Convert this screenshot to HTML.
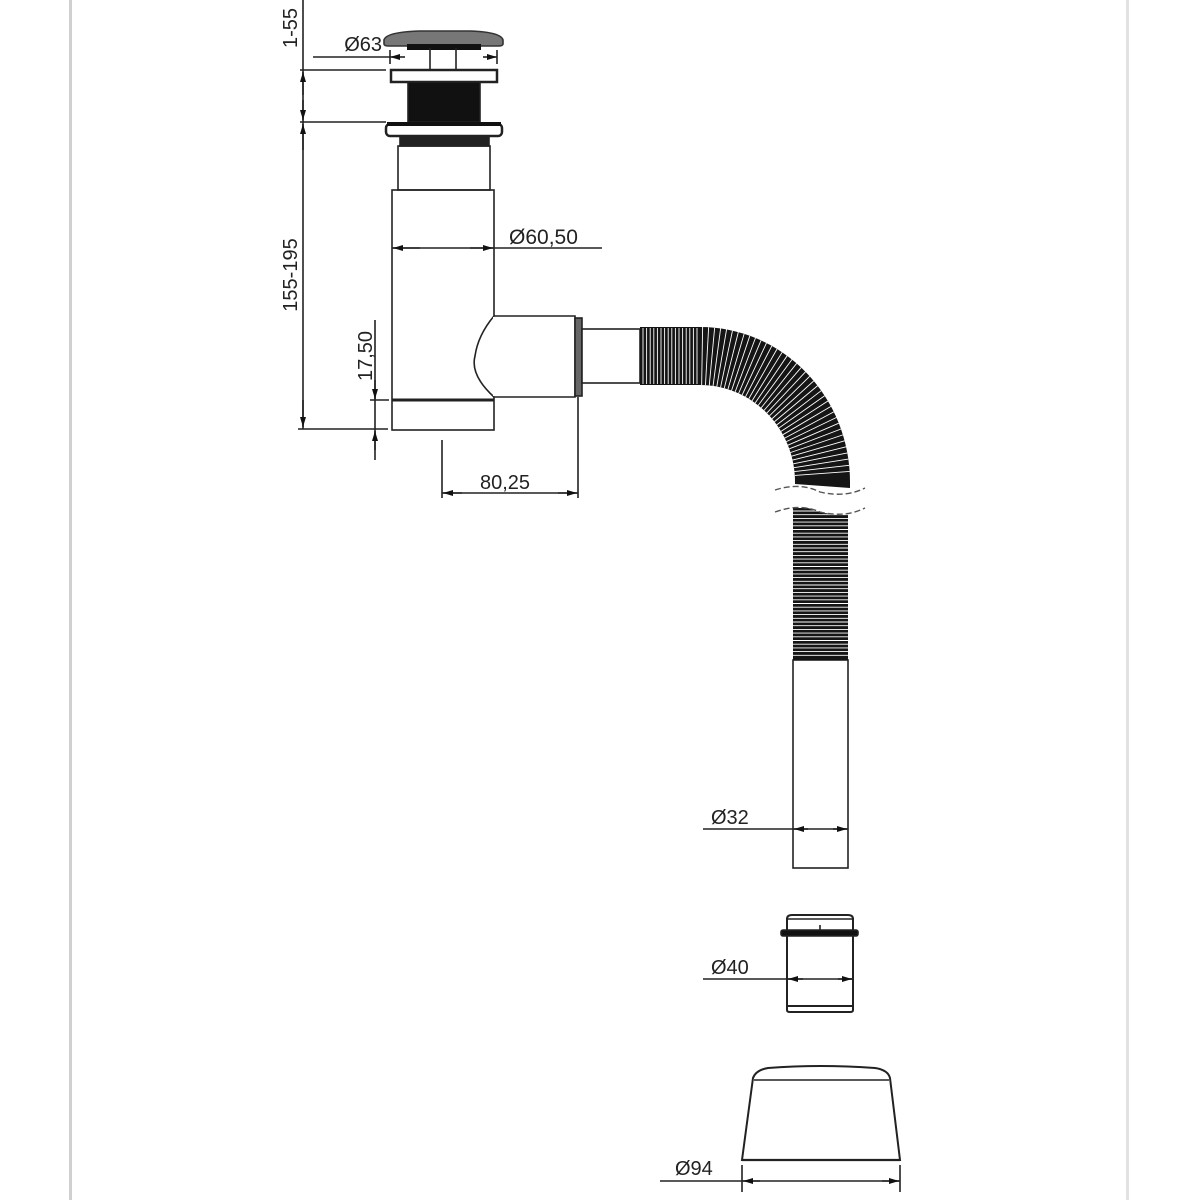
<!DOCTYPE html>
<html><head><meta charset="utf-8"><style>
html,body{margin:0;padding:0;background:#fff;width:1200px;height:1200px;overflow:hidden}
svg{display:block}
text{font-family:"Liberation Sans",sans-serif;fill:#222}
</style></head><body>
<svg id="s" width="1200" height="1200" viewBox="0 0 1200 1200" xmlns="http://www.w3.org/2000/svg">
<defs>
<marker id="a" viewBox="0 0 10 6" refX="10" refY="3" markerWidth="10" markerHeight="6" orient="auto-start-reverse" markerUnits="userSpaceOnUse"><path d="M0,0L10,3L0,6z" fill="#111"/></marker>
</defs>
<rect x="69" y="0" width="3" height="1200" fill="#d0d0d0"/>
<rect x="1126" y="0" width="3" height="1200" fill="#e2e2e2"/>
<g stroke="#222" stroke-width="1.6" fill="none">
<line x1="303" y1="0" x2="303" y2="429"/>
<line x1="300" y1="70" x2="386" y2="70"/>
<line x1="300" y1="122" x2="386" y2="122"/>
<line x1="298" y1="429" x2="388" y2="429"/>
<line x1="303" y1="95" x2="303" y2="72" marker-end="url(#a)"/>
<line x1="303" y1="100" x2="303" y2="120" marker-end="url(#a)"/>
<line x1="303" y1="150" x2="303" y2="124" marker-end="url(#a)"/>
<line x1="303" y1="400" x2="303" y2="427" marker-end="url(#a)"/>
<path d="M384,40 Q386,32 420,31 L470,31 Q501,32 503,40 L503,44 Q503,46 498,46 L389,46 Q384,46 384,44 Z" fill="#777" stroke="#333"/>
<rect x="407" y="44" width="74" height="6" fill="#111" stroke="none"/>
<line x1="430" y1="48" x2="430" y2="70"/><line x1="456" y1="48" x2="456" y2="70"/>
<line x1="313" y1="57" x2="390" y2="57"/>
<line x1="405" y1="57" x2="390" y2="57" marker-end="url(#a)"/>
<line x1="483" y1="57" x2="497" y2="57" marker-end="url(#a)"/>
<line x1="390" y1="50" x2="390" y2="64"/><line x1="497" y1="50" x2="497" y2="64"/>
<rect x="391" y="70" width="106" height="12" stroke-width="2.5"/>
<rect x="408" y="82" width="72" height="40" fill="#111"/>
<rect x="386" y="124" width="116" height="12" rx="4" fill="#fff" stroke-width="2.5"/>
<rect x="387" y="122" width="114" height="4" fill="#111" stroke="none"/>
<rect x="400" y="136" width="89" height="10" fill="#222"/>
<rect x="398" y="146" width="92" height="44"/>
<rect x="392" y="190" width="102" height="240"/>
<line x1="392" y1="400" x2="494" y2="400" stroke-width="3"/>
<line x1="392" y1="248" x2="602" y2="248"/>
<line x1="420" y1="248" x2="393" y2="248" marker-end="url(#a)"/>
<line x1="470" y1="248" x2="493" y2="248" marker-end="url(#a)"/>
<path d="M494,316 L575,316 L575,397 L494,397 Q470,375 475,356 Q478,335 494,316 Z" fill="#fff"/>
<line x1="494" y1="317" x2="494" y2="396" stroke="#fff" stroke-width="2"/>
<rect x="575" y="318" width="7" height="78" fill="#666"/>
<rect x="582" y="329" width="58" height="54" fill="#fff"/>
<line x1="375" y1="320" x2="375" y2="460"/>
<line x1="370" y1="400" x2="389" y2="400"/>
<line x1="375" y1="380" x2="375" y2="399" marker-end="url(#a)"/>
<line x1="375" y1="450" x2="375" y2="431" marker-end="url(#a)"/>
<line x1="442" y1="440" x2="442" y2="498"/>
<line x1="578" y1="397" x2="578" y2="498"/>
<line x1="442" y1="493" x2="578" y2="493"/>
<line x1="462" y1="493" x2="443" y2="493" marker-end="url(#a)"/>
<line x1="558" y1="493" x2="577" y2="493" marker-end="url(#a)"/>
<rect x="793" y="660" width="55" height="208"/>
<line x1="703" y1="829" x2="848" y2="829"/>
<line x1="808" y1="829" x2="794" y2="829" marker-end="url(#a)"/>
<line x1="833" y1="829" x2="847" y2="829" marker-end="url(#a)"/>
<path d="M787,933 L787,919 Q787,915 792,915 L848,915 Q853,915 853,919 L853,933" stroke-width="2"/>
<line x1="787" y1="919" x2="853" y2="919"/>
<line x1="820" y1="925" x2="820" y2="932"/>
<rect x="781" y="930" width="77" height="6" rx="2" fill="#111"/>
<path d="M787,936 L787,1010 Q787,1012 790,1012 L850,1012 Q853,1012 853,1010 L853,936" stroke-width="2"/>
<line x1="787" y1="1006" x2="853" y2="1006" stroke-width="2"/>
<line x1="703" y1="979" x2="853" y2="979"/>
<line x1="803" y1="979" x2="788" y2="979" marker-end="url(#a)"/>
<line x1="838" y1="979" x2="852" y2="979" marker-end="url(#a)"/>
<path d="M742,1160 L753,1078 Q756,1070 768,1068 Q820,1064 875,1068 Q888,1070 890,1078 L900,1160 Z" stroke-width="2"/>
<line x1="754" y1="1080" x2="889" y2="1080"/>
<line x1="742" y1="1160" x2="900" y2="1160" stroke-width="2.2"/>
<line x1="742" y1="1165" x2="742" y2="1192"/>
<line x1="900" y1="1165" x2="900" y2="1192"/>
<line x1="660" y1="1181" x2="900" y2="1181"/>
<line x1="760" y1="1181" x2="743" y2="1181" marker-end="url(#a)"/>
<line x1="882" y1="1181" x2="899" y2="1181" marker-end="url(#a)"/>
</g>
<!-- hose dark fills -->
<g fill="#151515" stroke="none">
<rect x="640" y="327" width="62" height="58"/>
<path d="M700,327 A150,155 0 0 1 850,482 L850,488 L795,484 L795,482 A95,97 0 0 0 700,385 Z"/>
<rect x="793" y="508" width="55" height="152"/>
</g>
<g id="hose" stroke="#fff" stroke-width="0.9"></g>
<path d="M775,490 Q800,482 820,492 Q845,498 865,488 L865,510 Q845,518 820,512 Q800,503 775,510Z" fill="#fff"/>
<g stroke="#555" stroke-width="1.4" fill="none" stroke-dasharray="6,3">
<path d="M775,490 Q800,482 820,492 Q845,498 865,488"/>
<path d="M775,512 Q800,503 820,512 Q845,518 865,508"/>
</g>
<text x="382" y="51" font-size="20" text-anchor="end">Ø63</text>
<text x="0" y="0" font-size="20" transform="translate(297,28) rotate(-90)" text-anchor="middle">1-55</text>
<text x="0" y="0" font-size="20" transform="translate(297,275) rotate(-90)" text-anchor="middle">155-195</text>
<text x="0" y="0" font-size="20" transform="translate(372,356) rotate(-90)" text-anchor="middle">17,50</text>
<text x="509" y="244" font-size="21">Ø60,50</text>
<text x="480" y="489" font-size="20">80,25</text>
<text x="711" y="824" font-size="20">Ø32</text>
<text x="711" y="974" font-size="20">Ø40</text>
<text x="675" y="1175" font-size="20">Ø94</text>
</svg>
<script>
var g=document.getElementById('hose'),ns='http://www.w3.org/2000/svg';
function L(a,b,c,d){var l=document.createElementNS(ns,'line');l.setAttribute('x1',a);l.setAttribute('y1',b);l.setAttribute('x2',c);l.setAttribute('y2',d);g.appendChild(l);}
for(var x=643;x<=700;x+=3.6)L(x,328,x,384);
var cx=700,cy=482;
for(var t=1;t<=88;t+=2.3){var r=t*Math.PI/180;L(cx+95*Math.sin(r),cy-97*Math.cos(r),cx+150*Math.sin(r),cy-155*Math.cos(r));}
for(var y=511;y<=658;y+=3.7){L(793,y,848,y);}
</script>
</body></html>
